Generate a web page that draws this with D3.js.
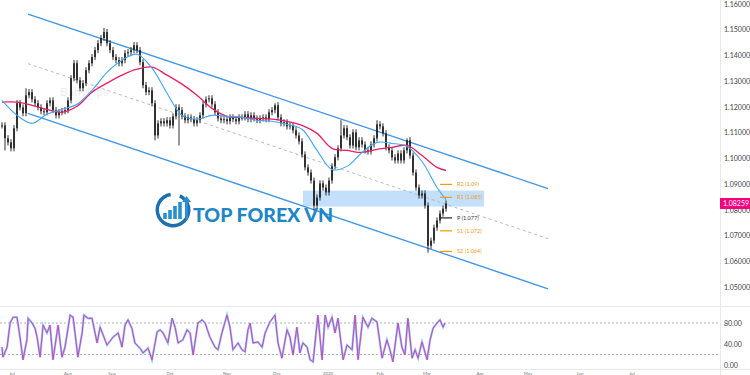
<!DOCTYPE html>
<html><head><meta charset="utf-8">
<script src="https://cdn.jsdelivr.net/npm/d3@7"></script>
<style>html,body{margin:0;padding:0;background:#fff;overflow:hidden}svg{display:block}</style>
</head><body>
<svg id="c" width="750" height="375"></svg>
<script>
// ---------- DATA ----------
const closes = [1.1129,1.1079,1.1063,1.1040,1.1118,1.1215,1.1199,1.1176,1.1246,1.1258,
1.1230,1.1215,1.1199,1.1184,1.1180,1.1215,1.1226,1.1188,1.1168,1.1180,
1.1184,1.1188,1.1226,1.1312,1.1370,1.1304,1.1273,1.1293,1.1343,1.1370,
1.1394,1.1421,1.1448,1.1468,1.1491,1.1448,1.1421,1.1394,1.1382,1.1370,
1.1382,1.1409,1.1413,1.1421,1.1440,1.1421,1.1374,1.1285,1.1258,1.1265,
1.1215,1.1090,1.1137,1.1145,1.1137,1.1149,1.1129,1.1164,1.1199,1.1188,
1.1164,1.1149,1.1160,1.1153,1.1137,1.1149,1.1168,1.1211,1.1230,1.1234,
1.1211,1.1180,1.1156,1.1149,1.1153,1.1145,1.1160,1.1153,1.1145,1.1160,
1.1160,1.1172,1.1153,1.1168,1.1156,1.1149,1.1156,1.1160,1.1153,1.1180,
1.1188,1.1207,1.1160,1.1137,1.1141,1.1125,1.1129,1.1110,1.1090,1.1067,
1.1016,1.0966,1.0946,1.0915,1.0818,1.0849,1.0904,1.0888,1.0869,1.0915,
1.0970,1.1005,1.1040,1.1090,1.1118,1.1083,1.1051,1.1102,1.1044,1.1071,
1.1055,1.1032,1.1028,1.1055,1.1079,1.1133,1.1125,1.1098,1.1044,1.1032,
1.1005,1.0993,1.1020,1.0993,1.1032,1.1071,1.1012,1.0946,1.0888,1.0857,
1.0865,1.0818,1.0662,1.0682,1.0732,1.0760,1.0787,1.0806,1.08259];
const wickHighs = [[8,1.1273],[24,1.1382],[34,1.1507],[91,1.1215],[113,1.1149],[125,1.1149],[135,1.1079]];
const wickLows = [[1,1.1032],[51,1.1071],[59,1.1051],[104,1.0799],[142,1.0635]];
const maBars = [0,5,10,15,20,25,30,35,40,45,50,55,60,65,70,75,80,85,90,95,100,105,110,115,120,125,130,135,140,145,148];
const maFast = [1.1226,1.1168,1.1137,1.1172,1.1191,1.1211,1.1265,1.1335,1.1382,1.1405,1.1351,1.1254,1.1168,1.1153,1.1168,1.1164,1.1160,1.1149,1.1145,1.1133,1.1114,1.1032,1.0958,1.0970,1.1024,1.1063,1.1059,1.1047,1.0989,1.0888,1.0841];
const maSlow = [1.1219,1.1219,1.1207,1.1191,1.1180,1.1203,1.1258,1.1293,1.1324,1.1347,1.1355,1.1324,1.1289,1.1246,1.1195,1.1164,1.1160,1.1156,1.1153,1.1145,1.1129,1.1098,1.1040,1.1032,1.1024,1.1036,1.1044,1.1051,1.1012,1.0966,1.0954];
const channelBars = [8.67, 182];
const channelUpper = [1.1561, 1.0884];
const channelLower = [1.1176, 1.0495];
const zone = {bar0: 100.3, bar1: 160.7, top: 1.0876, bottom: 1.0814};
const pivotNames = ["R2","R1","P","S1","S2"];
const pivotValues = [1.09,1.085,1.077,1.072,1.064];
const pivotLabels = ["R2 (1.09)","R1 (1.085)","P (1.077)","S1 (1.072)","S2 (1.064)"];
const priceTicks = [1.16,1.15,1.14,1.13,1.12,1.11,1.10,1.09,1.08,1.07,1.06,1.05];
const lastPrice = 1.08259;
const stochBars = [0,0.3,1.7,2.7,3.7,5,6,7,8.3,8.7,10,11,11.7,12.7,13.7,15,16,17,18.7,20,21,22.7,23.7,25.3,26.7,27.3,28.7,30,31.7,32.7,35,37,38.7,40,41,42,43.3,44.3,46,47,48.7,50,51.7,52.7,53.7,55.3,56.7,57.7,58.7,60.3,61.7,62.7,63.7,65.3,66.7,67.7,69.3,71,72,73.3,75,76,77,78.7,80,81,82,82.7,83.7,85.3,86.7,87.7,89.3,91,92,93.3,95,96,97,98.3,99.3,100.3,101.7,102.7,103.7,105.3,106.7,107.7,108.7,110,111,112,113.7,115,116.7,117.7,118.7,120.3,122,123.3,125,126.7,128.3,129.3,130.3,132,133.3,134.3,135.3,136.7,137.7,138.7,140,141.7,142.7,143.7,145,146,147,147.7];
const stochValues = [34,15,34,80,91,91,53,10,48,89,80,70,53,15,76,61,76,10,76,15,34,95,91,15,61,95,89,89,42,72,38,53,61,34,76,86,70,42,32,23,32,10,63,67,61,42,89,72,42,48,67,61,19,80,86,80,53,34,29,61,95,72,29,42,29,25,67,80,42,44,34,61,82,95,42,13,67,53,19,72,23,42,34,10,6,95,10,95,72,91,61,89,10,38,29,95,10,91,72,89,82,13,48,29,6,80,34,19,89,13,29,13,44,10,48,70,80,86,72,80];
const stochTicks = [80,40,0];
const stochLevels = [80,20];
const timeLabels = [["Jul",12],["Aug",68],["Sep",112],["Oct",170],["Nov",227],["Dec",277],["2020",328],["Feb",380],["Mar",427],["Apr",480],["May",528],["Jun",580],["Jul",632]];

// ---------- SCALES ----------
const svg = d3.select("#c");
const W = 750, plotRight = 720;
const x = d3.scaleLinear().domain([0,148]).range([2,446]);
const y = d3.scaleLinear().domain([1.05,1.16]).range([287.5,4]);
const ys = d3.scaleLinear().domain([0,100]).range([365,312.5]);

// grid frame
svg.append("line").attr("x1",plotRight+0.5).attr("x2",plotRight+0.5).attr("y1",0).attr("y2",375).attr("stroke","#e6e8ee");
svg.append("line").attr("x1",0).attr("x2",W).attr("y1",306.5).attr("y2",306.5).attr("stroke","#e6e8ee");
svg.append("line").attr("x1",0).attr("x2",W).attr("y1",369.5).attr("y2",369.5).attr("stroke","#e6e8ee");

// watermark
svg.append("text").attr("x",60).attr("y",96).attr("font-family","Lato, sans-serif").attr("font-size",12)
  .attr("fill","#000").attr("opacity",0.07).text("BabyPips");

// zone
svg.append("rect").attr("x",x(zone.bar0)).attr("y",y(zone.top)).attr("width",x(zone.bar1)-x(zone.bar0))
  .attr("height",y(zone.bottom)-y(zone.top)).attr("fill","#90c6f5").attr("opacity",0.55);

// channel
const chan = (vals)=> d3.line().x((d,i)=>x(channelBars[i])).y(d=>y(d))(vals);
svg.append("path").attr("d",chan(channelUpper)).attr("stroke","#3d95e8").attr("stroke-width",1.3).attr("fill","none");
svg.append("path").attr("d",chan(channelLower)).attr("stroke","#3d95e8").attr("stroke-width",1.3).attr("fill","none");
svg.append("path").attr("d",chan(channelUpper.map((v,i)=>(v+channelLower[i])/2))).attr("stroke","#b8bbc4")
  .attr("stroke-width",1).attr("stroke-dasharray","3,3").attr("fill","none");

// candles
const candles = closes.map((c,i)=>{
  const o = i>0 ? closes[i-1] : c;
  let h = Math.max(o,c)+0.0012, l = Math.min(o,c)-0.0012;
  wickHighs.forEach(w=>{ if(w[0]===i) h=w[1]; });
  wickLows.forEach(w=>{ if(w[0]===i) l=w[1]; });
  return {i,o,c,h,l};
});
const cg = svg.append("g");
cg.selectAll("line").data(candles).join("line")
  .attr("x1",d=>x(d.i)).attr("x2",d=>x(d.i)).attr("y1",d=>y(d.h)).attr("y2",d=>y(d.l))
  .attr("stroke","#1a1a1a").attr("stroke-width",0.9);
cg.selectAll("rect").data(candles).join("rect")
  .attr("x",d=>x(d.i)-0.8).attr("width",1.6)
  .attr("y",d=>y(Math.max(d.o,d.c))).attr("height",d=>Math.max(1,Math.abs(y(d.o)-y(d.c))))
  .attr("fill","#1a1a1a");

// MAs
const maLine = d3.line().x((d,i)=>x(maBars[i])).y(d=>y(d)).curve(d3.curveCatmullRom);
svg.append("path").attr("d",maLine(maSlow)).attr("stroke","#e91e63").attr("stroke-width",1.3).attr("fill","none");
svg.append("path").attr("d",maLine(maFast)).attr("stroke","#42a5f5").attr("stroke-width",1.1).attr("fill","none");

// pivots
pivotValues.forEach((v,k)=>{
  const col = pivotNames[k]==="P" ? "#222" : "#ff9800";
  svg.append("line").attr("x1",x(146)).attr("x2",x(150)).attr("y1",y(v)).attr("y2",y(v)).attr("stroke",col).attr("stroke-width",1.2);
  svg.append("text").attr("x",x(151.7)).attr("y",y(v)+2).attr("font-family","Lato, sans-serif").attr("font-size",5.5)
    .attr("fill",pivotNames[k]==="P" ? "#333" : "#f39c12").text(pivotLabels[k]);
});

// logo
const logo = svg.append("g");
const lx = 173, lyc = 210;
logo.append("path").attr("d",d3.arc()({innerRadius:14,outerRadius:17.5,startAngle:0.45,endAngle:Math.PI*2-0.15}))
  .attr("transform",`translate(${lx},${lyc})`).attr("fill","#1e6fb0");
[[-8,6],[-3,9],[2,13],[7,17]].forEach(b=>{
  logo.append("rect").attr("x",lx+b[0]-1.8).attr("y",lyc+9-b[1]).attr("width",3.6).attr("height",b[1]).attr("fill","#2a8fd0");
});
logo.append("path").attr("d",`M${lx+12},${lyc+9} L${lx+12},${lyc-8} L${lx+9},${lyc-8} L${lx+13.5},${lyc-14} L${lx+18},${lyc-8} L${lx+15},${lyc-8} L${lx+15},${lyc+9}Z`).attr("fill","#2a8fd0");
logo.append("text").attr("x",193).attr("y",222).attr("font-family","Lato, sans-serif").attr("font-weight",900)
  .attr("font-size",19.5).attr("fill","#1f86c6").text("TOP FOREX VN");

// price axis
svg.selectAll(".pt").data(priceTicks).join("text").attr("class","pt")
  .attr("x",724).attr("y",d=>y(d)+2.5).attr("font-family","Lato, sans-serif").attr("font-size",7).attr("fill","#444")
  .text(d=>d.toFixed(5));
svg.append("rect").attr("x",720).attr("y",y(lastPrice)-5.5).attr("width",30).attr("height",11).attr("fill","#f5007f");
svg.append("text").attr("x",723).attr("y",y(lastPrice)+2.5).attr("font-family","Lato, sans-serif").attr("font-size",7)
  .attr("fill","#fff").text(lastPrice.toFixed(5));

// stoch pane
stochLevels.forEach(v=>{
  svg.append("line").attr("x1",0).attr("x2",plotRight).attr("y1",ys(v)).attr("y2",ys(v))
    .attr("stroke","#9a9ca3").attr("stroke-width",0.8).attr("stroke-dasharray","2,2");
});
const st = d3.line().x((d,i)=>x(stochBars[i])).y(d=>ys(d));
svg.append("path").attr("d",st(stochValues)).attr("stroke","#8ec8f6").attr("stroke-width",2.2).attr("fill","none");
svg.append("path").attr("d",st(stochValues)).attr("stroke","#d044b4").attr("stroke-width",1).attr("fill","none");
svg.selectAll(".st").data(stochTicks).join("text").attr("class","st")
  .attr("x",724).attr("y",d=>ys(d)+2.5).attr("font-family","Lato, sans-serif").attr("font-size",7).attr("fill","#444")
  .text(d=>d.toFixed(2));

// time labels (small, at the very bottom)
svg.selectAll(".tl").data(timeLabels).join("text").attr("class","tl")
  .attr("x",d=>d[1]).attr("y",374.5).attr("text-anchor","middle").attr("font-family","Lato, sans-serif").attr("font-size",4.5)
  .attr("fill","#777").text(d=>d[0]);
</script>
</body></html>
